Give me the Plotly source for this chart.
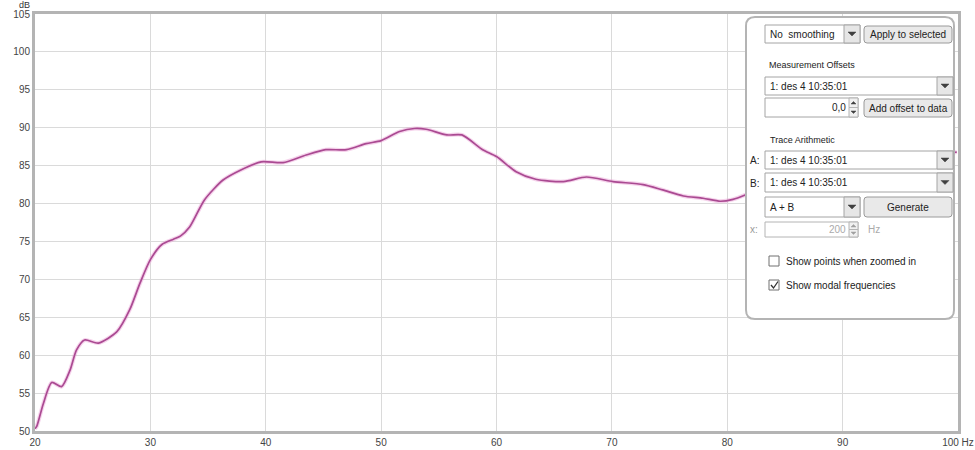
import plotly.graph_objects as go

# ---- data ----
freq_hz = [20.0, 20.15, 20.72, 21.45, 22.3, 23.03, 23.6, 24.3, 25.5, 27.1, 28.2, 29.1, 30.0,
           31.0, 32.0, 32.6, 33.4, 34.7, 36.3, 37.8, 39.6, 41.5, 43.5, 45.2, 47.0, 48.7,
           50.0, 51.6, 52.9, 53.9, 55.7, 57.0, 58.8, 60.0, 61.7, 63.4, 65.8, 67.8, 70.1,
           72.7, 74.4, 76.2, 77.9, 79.4, 80.5, 81.5, 83.1, 86.0, 90.0, 95.0, 99.9]
spl_db = [50.3, 50.6, 53.6, 56.4, 55.85, 58.0, 60.7, 62.0, 61.6, 63.1, 65.96, 69.5, 72.6,
          74.6, 75.3, 75.7, 76.9, 80.5, 83.1, 84.4, 85.5, 85.4, 86.4, 87.1, 87.1, 87.9,
          88.3, 89.5, 89.9, 89.8, 89.05, 89.05, 87.1, 86.2, 84.2, 83.2, 82.9, 83.5, 82.9,
          82.5, 81.8, 81.0, 80.7, 80.3, 80.55, 81.1, 82.2, 83.5, 84.5, 85.5, 86.8]
x_ticks = [20, 30, 40, 50, 60, 70, 80, 90, 100]
x_labels = ["20", "30", "40", "50", "60", "70", "80", "90", "100 Hz"]
y_ticks = [50, 55, 60, 65, 70, 75, 80, 85, 90, 95, 100, 105]

W, H = 975, 450
L, R, T, B = 35, 17, 14, 19
PW, PH = W - L - R, H - T - B

def X(p):
    return (p - L) / PW

def Y(p):
    return (H - B - p) / PH

FONT = "Liberation Sans, Arial, sans-serif"

fig = go.Figure()
fig.add_trace(go.Scatter(x=freq_hz, y=spl_db, mode="lines",
                         line=dict(color="rgba(235,165,215,0.5)", width=4, shape="spline", smoothing=0.7),
                         hoverinfo="skip", showlegend=False))
fig.add_trace(go.Scatter(x=freq_hz, y=spl_db, mode="lines",
                         line=dict(color="#aa4a92", width=1.7, shape="spline", smoothing=0.7),
                         showlegend=False))

shapes = []
annots = []

def rrect(x0, y0, x1, y1, r, fill, line, lw=1):
    p = (f"M {X(x0+r)},{Y(y0)} L {X(x1-r)},{Y(y0)} Q {X(x1)},{Y(y0)} {X(x1)},{Y(y0+r)} "
         f"L {X(x1)},{Y(y1-r)} Q {X(x1)},{Y(y1)} {X(x1-r)},{Y(y1)} "
         f"L {X(x0+r)},{Y(y1)} Q {X(x0)},{Y(y1)} {X(x0)},{Y(y1-r)} "
         f"L {X(x0)},{Y(y0+r)} Q {X(x0)},{Y(y0)} {X(x0+r)},{Y(y0)} Z")
    shapes.append(dict(type="path", xref="paper", yref="paper", path=p, fillcolor=fill,
                       line=dict(color=line, width=lw), layer="above"))

def rect(x0, y0, x1, y1, fill, line, lw=1):
    shapes.append(dict(type="rect", xref="paper", yref="paper", x0=X(x0), x1=X(x1),
                       y0=Y(y1), y1=Y(y0), fillcolor=fill,
                       line=dict(color=line, width=lw), layer="above"))

def tri(cx, cy, s, up, color):
    if up:
        p = f"M {X(cx-s)},{Y(cy+s/2)} L {X(cx+s)},{Y(cy+s/2)} L {X(cx)},{Y(cy-s/2)} Z"
    else:
        p = f"M {X(cx-s)},{Y(cy-s/2)} L {X(cx+s)},{Y(cy-s/2)} L {X(cx)},{Y(cy+s/2)} Z"
    shapes.append(dict(type="path", xref="paper", yref="paper", path=p, fillcolor=color,
                       line=dict(color=color, width=0.5), layer="above"))

def text(px, py, s, anchor="left", color="#222222", size=10):
    annots.append(dict(xref="paper", yref="paper", x=X(px), y=Y(py), text=s, showarrow=False,
                       xanchor=anchor, yanchor="middle", font=dict(family=FONT, size=size, color=color)))

def dropdown(x0, y0, x1, y1, s):
    rect(x0, y0, x1, y1, "white", "#a4a4a4")
    rect(x1 - 16, y0, x1, y1, "#e6e6e6", "#a4a4a4")
    tri(x1 - 8, (y0 + y1) / 2, 4, False, "#404040")
    text(x0 + 3, (y0 + y1) / 2, s)

def button(x0, y0, x1, y1, s):
    rrect(x0, y0, x1, y1, 3, "#e9e9e9", "#9a9a9a")
    text((x0 + x1) / 2, (y0 + y1) / 2, s, anchor="center")

def spinner(x0, y0, x1, y1, s, disabled=False):
    rect(x0, y0, x1, y1, "white", "#b4b4b4" if disabled else "#a4a4a4")
    rect(x1 - 9, y0, x1, (y0 + y1) / 2, "#f0f0f0", "#b4b4b4")
    rect(x1 - 9, (y0 + y1) / 2, x1, y1, "#f0f0f0", "#b4b4b4")
    col = "#a0a0a0" if disabled else "#404040"
    tri(x1 - 4.5, y0 + (y1 - y0) * 0.25, 2.5, True, col)
    tri(x1 - 4.5, y0 + (y1 - y0) * 0.75, 2.5, False, col)
    text(x1 - 10, (y0 + y1) / 2, s, anchor="right", color="#aaaaaa" if disabled else "#222222")

def checkbox(x0, y0, s, checked):
    rect(x0, y0, x0 + 10, y0 + 10, "white", "#707070")
    if checked:
        p = f"M {X(x0+2)},{Y(y0+5)} L {X(x0+4.5)},{Y(y0+8)} L {X(x0+9)},{Y(y0+1.5)}"
        shapes.append(dict(type="path", xref="paper", yref="paper", path=p,
                           line=dict(color="#303030", width=1.3), layer="above"))
    text(x0 + 15, y0 + 5, s)

# control panel overlay
rrect(746, 17, 954, 319, 9, "white", "#b4b4b4", 2)
dropdown(765, 25, 860, 43, "No  smoothing")
button(864, 26, 952, 43, "Apply to selected")
text(767, 65, "Measurement Offsets", size=9)
dropdown(765, 77, 953, 95, "1: des 4 10:35:01")
spinner(765, 98, 858, 117, "0,0")
button(864, 99, 952, 117, "Add offset to data")
text(768, 140, "Trace Arithmetic", size=9)
text(748, 160, "A:")
dropdown(765, 151, 953, 169, "1: des 4 10:35:01")
text(748, 183, "B:")
dropdown(765, 173, 953, 192, "1: des 4 10:35:01")
dropdown(765, 197, 860, 217, "A + B")
button(864, 197, 952, 217, "Generate")
text(748, 229, "x:", color="#999999")
spinner(765, 222, 858, 237, "200", disabled=True)
text(866, 229, "Hz", color="#aaaaaa")
checkbox(769, 256, "Show points when zoomed in", False)
checkbox(769, 280, "Show modal frequencies", True)

# dB unit label
annots.append(dict(xref="paper", yref="paper", x=X(24), y=Y(5), text="dB", showarrow=False,
                   xanchor="center", yanchor="middle", font=dict(family=FONT, size=9, color="#333333")))

axis_common = dict(showgrid=True, gridcolor="#dadada", gridwidth=1, zeroline=False,
                   showline=True, mirror=True, linecolor="#b4b4b4", linewidth=3,
                   ticks="", automargin=False, tickfont=dict(family=FONT, size=10, color="#444444"))

fig.update_layout(
    width=W, height=H, margin=dict(l=L, r=R, t=T, b=B, autoexpand=False),
    paper_bgcolor="white", plot_bgcolor="white",
    xaxis=dict(range=[20, 100], tickvals=x_ticks, ticktext=x_labels, **axis_common),
    yaxis=dict(range=[50, 105], tickvals=y_ticks, **axis_common),
    shapes=shapes, annotations=annots,
)

fig.write_html("out.html", config={"displayModeBar": False},
               post_script="document.body.style.margin='0';document.body.style.overflow='hidden';")
